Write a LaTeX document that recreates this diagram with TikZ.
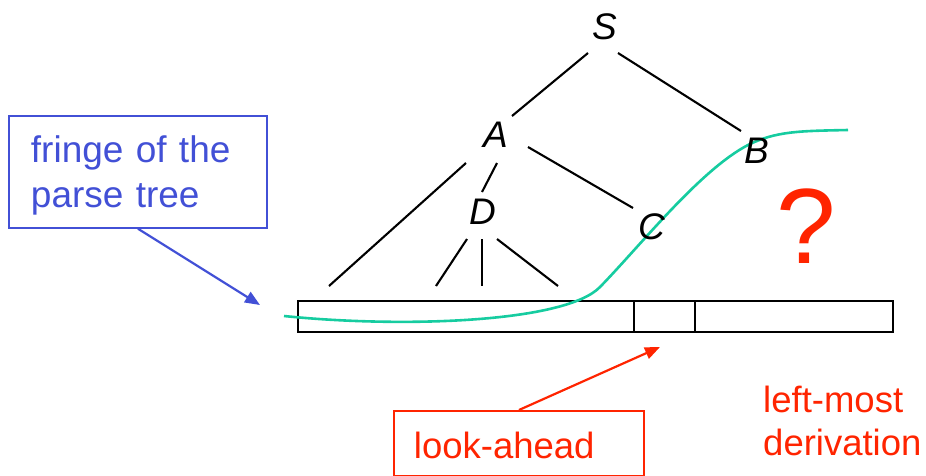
\documentclass[tikz,border=0pt]{standalone}
\usepackage{fontspec}
\setmainfont{Liberation Sans}
\usetikzlibrary{arrows.meta}
\definecolor{fringeblue}{RGB}{66,80,214}
\definecolor{hotred}{RGB}{255,36,0}
\definecolor{curvegreen}{RGB}{22,204,160}
\begin{document}
\begin{tikzpicture}[x=1pt,y=-1pt,
  treelabel/.style={font=\fontsize{37}{44}\selectfont\itshape, inner sep=0pt, anchor=base},
  treeedge/.style={line width=2.1pt, black},
  bluebox/.style={draw=fringeblue, line width=1.9pt, text=fringeblue,
    font=\fontsize{37}{45}\selectfont, align=left, text width=214pt,
    inner xsep=22pt, inner ysep=20pt, text depth=45pt, anchor=north west},
  redbox/.style={draw=hotred, line width=1.9pt, text=hotred,
    font=\fontsize{36.5}{43}\selectfont, align=left, text width=210pt,
    inner xsep=20pt, inner ysep=0pt, minimum height=65pt, text height=31pt,
    text depth=0pt, anchor=north west},
  redtext/.style={text=hotred, font=\fontsize{36.5}{43}\selectfont, align=left,
    inner sep=0pt, anchor=north west},
  bluearrow/.style={draw=fringeblue, line width=2.2pt, -{Triangle[length=15pt,width=12pt]}},
  redarrow/.style={draw=hotred, line width=2.2pt, -{Triangle[length=15pt,width=12pt]}},
  stripline/.style={line width=2.1pt, black},
  fringecurve/.style={draw=curvegreen, line width=2.6pt}
]
\useasboundingbox (0,0) rectangle (926,475);

% input strip
\draw[stripline] (298,301) rectangle (893,332);
\draw[stripline] (634,301) -- (634,332);
\draw[stripline] (695,301) -- (695,332);

% fringe curve
\draw[fringecurve] (284,316) .. controls (400,328) and (565,323) .. (600,287)
  .. controls (640,246) and (700,170) .. (748,145)
  .. controls (776,131) and (800,131) .. (848,130);

% tree labels
\node[treelabel] (S) at (605,39) {S};
\node[treelabel] (A) at (496,147) {A};
\node[treelabel] (D) at (483,224) {D};
\node[treelabel] (B) at (756.5,163) {B};
\node[treelabel] (C) at (651.5,239) {C};

% leaf ends
\coordinate (L1) at (329,286);
\coordinate (L2) at (436,286);
\coordinate (L3) at (482,286);
\coordinate (L4) at (558,286);

% tree edges
\draw[treeedge] ([shift={(-17,14)}]S.base) -- ([shift={(16,-31)}]A.base);
\draw[treeedge] ([shift={(13,14)}]S.base) -- ([shift={(-15.5,-32)}]B.base);
\draw[treeedge] ([shift={(-30,16)}]A.base) -- (L1);
\draw[treeedge] ([shift={(1,16)}]A.base) -- ([shift={(-1,-32)}]D.base);
\draw[treeedge] ([shift={(32,0)}]A.base) -- ([shift={(-18.5,-31)}]C.base);
\draw[treeedge] ([shift={(-16,15)}]D.base) -- (L2);
\draw[treeedge] ([shift={(-1,15)}]D.base) -- (L3);
\draw[treeedge] ([shift={(14,15)}]D.base) -- (L4);

% question mark
\node[text=hotred, font=\fontsize{107}{110}\selectfont, inner sep=0pt, anchor=base] (Q) at (806,263) {?};

% callouts
\node[bluebox] (fringe) at (8,115) {fringe of the\\parse tree};
\coordinate (fringetip) at (260,305);
\draw[bluearrow] (fringe.south) -- (fringetip);

\node[redbox] (look) at (393,410) {look-ahead};
\coordinate (looktip) at (660,347);
\draw[redarrow] (look.north) -- (looktip);

\node[redtext] (lmd) at (763,385.4) {left-most\\derivation};
\end{tikzpicture}
\end{document}
